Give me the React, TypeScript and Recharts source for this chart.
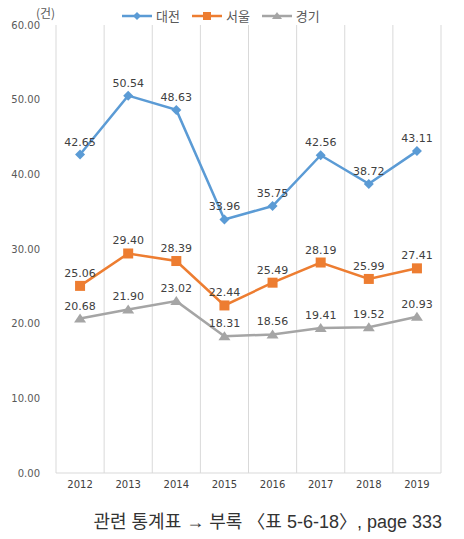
import { LineChart, Line, XAxis, YAxis, CartesianGrid, LabelList } from 'recharts';

const years = ['2012', '2013', '2014', '2015', '2016', '2017', '2018', '2019'];
const daejeon = [42.65, 50.54, 48.63, 33.96, 35.75, 42.56, 38.72, 43.11];
const seoul = [25.06, 29.4, 28.39, 22.44, 25.49, 28.19, 25.99, 27.41];
const gyeonggi = [20.68, 21.9, 23.02, 18.31, 18.56, 19.41, 19.52, 20.93];
const yTicks = [0, 10, 20, 30, 40, 50, 60];

const seriesNames = ['대전', '서울', '경기'];
const colors = ['#5B9BD5', '#ED7D31', '#A5A5A5'];

const data = years.map((y, i) => ({
  year: y,
  대전: daejeon[i],
  서울: seoul[i],
  경기: gyeonggi[i],
}));

const fmt = (v: any) => Number(v).toFixed(2);

const Diamond = (props: any) => {
  const { cx, cy } = props;
  if (cx == null || cy == null) return null;
  return <path d={`M${cx},${cy - 5} L${cx + 5},${cy} L${cx},${cy + 5} L${cx - 5},${cy} Z`} fill={colors[0]} />;
};
const Square = (props: any) => {
  const { cx, cy } = props;
  if (cx == null || cy == null) return null;
  return <rect x={cx - 5} y={cy - 5} width={10} height={10} fill={colors[1]} />;
};
const Triangle = (props: any) => {
  const { cx, cy } = props;
  if (cx == null || cy == null) return null;
  return <path d={`M${cx},${cy - 5} L${cx + 6},${cy + 4} L${cx - 6},${cy + 4} Z`} fill={colors[2]} />;
};

const markers = [
  (x: number, y: number) => <path d={`M${x},${y - 4} L${x + 4},${y} L${x},${y + 4} L${x - 4},${y} Z`} fill={colors[0]} />,
  (x: number, y: number) => <rect x={x - 4} y={y - 4} width={8} height={8} fill={colors[1]} />,
  (x: number, y: number) => <path d={`M${x},${y - 4} L${x + 5},${y + 3} L${x - 5},${y + 3} Z`} fill={colors[2]} />,
];

const labelStyle = { fontSize: 11, fill: '#404040', fontFamily: 'DejaVu Sans' };

export default function App() {
  return (
    <div style={{ position: 'absolute', left: 0, top: 0, width: 464, height: 539, background: '#fff', fontFamily: '"Noto Sans CJK KR", sans-serif' }}>
      <div style={{ position: 'absolute', left: 36, top: 4, fontSize: 12, color: '#595959' }}>(건)</div>
      <div style={{ position: 'absolute', left: 122, top: 6, display: 'flex', gap: 12, fontSize: 13, color: '#595959', lineHeight: '20px' }}>
        {seriesNames.map((n, i) => (
          <div key={n} style={{ display: 'flex', alignItems: 'center', gap: 4 }}>
            <svg width={30} height={12}>
              <line x1={0} y1={6} x2={30} y2={6} stroke={colors[i]} strokeWidth={2.5} />
              {markers[i](15, 6)}
            </svg>
            <span>{n}</span>
          </div>
        ))}
      </div>
      <LineChart width={464} height={500} data={data} margin={{ top: 25, right: 23, left: 0, bottom: 7 }}>
        <CartesianGrid
          horizontal={false}
          stroke="#d9d9d9"
          verticalCoordinatesGenerator={({ offset }: any) =>
            Array.from({ length: years.length + 1 }, (_, i) => offset.left + (i * offset.width) / years.length)
          }
        />
        <XAxis
          dataKey="year"
          scale="band"
          axisLine={{ stroke: '#d9d9d9' }}
          tickLine={false}
          tickSize={0}
          tickMargin={8}
          height={20}
          tick={{ fontSize: 10, fill: '#404040', fontFamily: 'DejaVu Sans' }}
        />
        <YAxis
          domain={[0, 60]}
          ticks={yTicks}
          tickFormatter={fmt}
          axisLine={false}
          tickLine={false}
          tickSize={0}
          tickMargin={16}
          width={56}
          tick={{ fontSize: 10, fill: '#595959', fontFamily: 'DejaVu Sans' }}
        />
        <Line dataKey="경기" stroke={colors[2]} strokeWidth={2.5} dot={<Triangle />} isAnimationActive={false}>
          <LabelList dataKey="경기" position="top" offset={9} formatter={fmt} style={labelStyle} />
        </Line>
        <Line dataKey="서울" stroke={colors[1]} strokeWidth={2.5} dot={<Square />} isAnimationActive={false}>
          <LabelList dataKey="서울" position="top" offset={9} formatter={fmt} style={labelStyle} />
        </Line>
        <Line dataKey="대전" stroke={colors[0]} strokeWidth={2.5} dot={<Diamond />} isAnimationActive={false}>
          <LabelList dataKey="대전" position="top" offset={9} formatter={fmt} style={labelStyle} />
        </Line>
      </LineChart>
      <div style={{ position: 'absolute', right: 22, top: 508, fontSize: 18, color: '#333', whiteSpace: 'nowrap', fontFamily: '"Liberation Sans", "Noto Sans CJK KR", sans-serif', lineHeight: '28px' }}>
        관련 통계표 → 부록 〈표 5-6-18〉, page 333
      </div>
    </div>
  );
}
